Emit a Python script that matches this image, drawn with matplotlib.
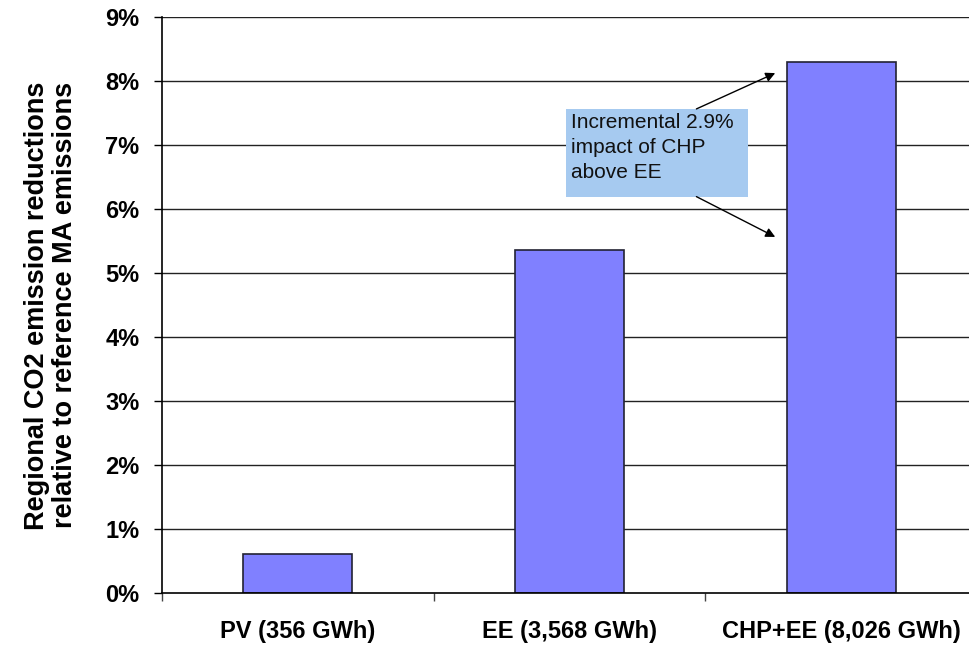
import numpy as np
import matplotlib
matplotlib.use("Agg")
import matplotlib.pyplot as plt
from matplotlib.patches import Rectangle

# data
#______________________________________________________________________________
categories = ["PV (356 GWh)", "EE (3,568 GWh)", "CHP+EE (8,026 GWh)"]
reductions = [0.62, 5.36, 8.30]            # percent
yticks     = [0, 1, 2, 3, 4, 5, 6, 7, 8, 9]
ylabel     = "Regional CO2 emission reductions\nrelative to reference MA emissions"
note       = "Incremental 2.9%\nimpact of CHP\nabove EE"

# figure
#______________________________________________________________________________
plt.rcParams["font.family"] = ["Liberation Sans", "DejaVu Sans"]

fig = plt.figure(figsize=(9.69, 6.45), dpi=100)
ax  = fig.add_axes([0.167, 0.080, 0.833, 0.893])

x = np.arange(len(categories))

# gridlines behind bars
for t in yticks[1:]:
    ax.axhline(t, color="#222222", linewidth=1.0, zorder=0)

ax.bar(x, reductions, width=0.4, color="#8080FF", edgecolor="#222233",
       linewidth=1.2, zorder=2)

ax.set_xlim(-0.5, 2.47)
ax.set_ylim(0, 9)

# spines
for s in ["top", "right"]:
    ax.spines[s].set_visible(False)
ax.spines["left"].set_linewidth(1.2)
ax.spines["bottom"].set_linewidth(1.2)

# y axis
ax.set_yticks(yticks)
ax.set_yticklabels(["{}%".format(t) for t in yticks],
                   fontsize=17, fontweight="bold")
ax.tick_params(axis="y", length=6, width=1.0, pad=10)
ax.set_ylabel(ylabel, fontsize=19.5, fontweight="bold", labelpad=20,
              linespacing=1.1)

# x axis: labels at centres, tick marks between categories
ax.set_xticks(x)
ax.set_xticklabels(categories, fontsize=17, fontweight="bold")
ax.tick_params(axis="x", which="major", length=0, pad=19)
ax.set_xticks([-0.5, 0.5, 1.5], minor=True)
ax.tick_params(axis="x", which="minor", length=6, width=1.0, color="#444444")

# annotation box with arrows
#______________________________________________________________________________
box_x0, box_x1 = 0.989, 1.658
box_y0, box_y1 = 6.20, 7.57
ax.add_patch(Rectangle((box_x0, box_y0), box_x1 - box_x0, box_y1 - box_y0,
                       facecolor="#A6CAF0", edgecolor="none", zorder=3))
ax.text(box_x0 + 0.017, box_y1 - 0.07, note, fontsize=15, ha="left", va="top",
        linespacing=1.4, color="#111111", zorder=4)

ax.annotate("", xy=(1.757, 8.13), xytext=(1.467, 7.57),
            arrowprops=dict(arrowstyle="-|>", color="black", lw=1.0,
                            mutation_scale=14, shrinkA=0, shrinkB=0),
            zorder=4)
ax.annotate("", xy=(1.757, 5.57), xytext=(1.467, 6.20),
            arrowprops=dict(arrowstyle="-|>", color="black", lw=1.0,
                            mutation_scale=14, shrinkA=0, shrinkB=0),
            zorder=4)

fig.savefig("out.png", dpi=100)
